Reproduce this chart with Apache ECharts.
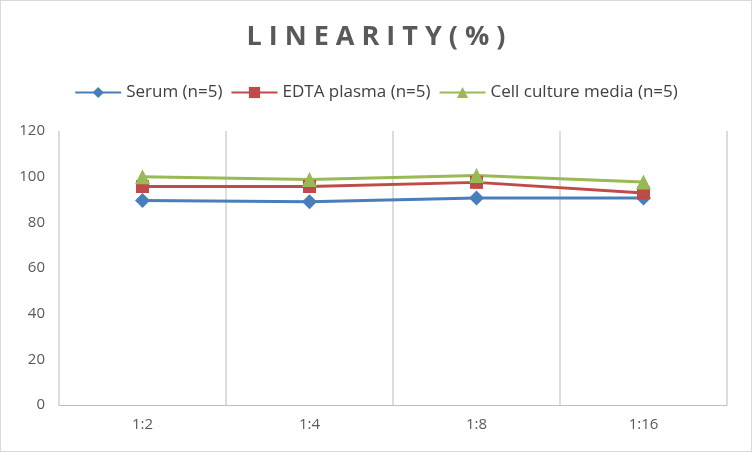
<!DOCTYPE html>
<html lang="en">
<head>
    <meta charset="UTF-8">
    <title>Linearity</title>
    <script src="https://cdn.jsdelivr.net/npm/echarts@6/dist/echarts.min.js"></script>
    <style type="text/css">
        *{ padding: 0px; margin: 0px; border: 0px; }
        #chart{ width: 750px; height: 450px; border: 1px solid #d9d9d9; background: #fff; }
    </style>
</head>
<body>
<div id="chart"></div>
<script>
    // chart data
    var categories = ['1:2', '1:4', '1:8', '1:16'];
    var serum = [89.6, 89, 90.7, 90.7];
    var edta = [95.7, 95.7, 97.5, 92.9];
    var cellMedia = [100, 98.8, 100.5, 97.7];

    var chart = echarts.init(document.getElementById('chart'));
    var option = {
        animation: false,
        title: {
            text: 'L I N E A R I T Y ( % )',
            left: 'center',
            top: 18,
            textStyle: { fontFamily: 'Open Sans', fontSize: 27, fontWeight: 'bold', color: '#595959' }
        },
        legend: {
            top: 78,
            left: 'center',
            itemWidth: 46,
            itemHeight: 14,
            itemGap: 8,
            textStyle: { fontFamily: 'Open Sans', fontSize: 17, color: '#404040' },
            data: ['Serum (n=5)', 'EDTA plasma (n=5)', 'Cell culture media (n=5)']
        },
        grid: { left: 58, right: 24, top: 130, bottom: 46 },
        xAxis: {
            type: 'category',
            data: categories,
            boundaryGap: true,
            axisLine: { lineStyle: { color: '#bfbfbf' } },
            axisTick: { show: false },
            splitLine: { show: true, lineStyle: { color: '#d0d0d0', width: 1.5 } },
            axisLabel: { fontFamily: 'Open Sans', fontSize: 15, color: '#595959', margin: 12 }
        },
        yAxis: {
            type: 'value',
            min: 0, max: 120, interval: 20,
            axisLine: { show: false },
            axisTick: { show: false },
            splitLine: { show: false },
            axisLabel: { fontFamily: 'Open Sans', fontSize: 15, color: '#595959', margin: 14 }
        },
        series: [
            { name: 'Serum (n=5)', type: 'line', data: serum, symbol: 'diamond', symbolSize: 15,
              itemStyle: { color: '#4a7ebb' }, lineStyle: { width: 3 } },
            { name: 'EDTA plasma (n=5)', type: 'line', data: edta, symbol: 'rect', symbolSize: 13,
              itemStyle: { color: '#be4b48' }, lineStyle: { width: 3 } },
            { name: 'Cell culture media (n=5)', type: 'line', data: cellMedia, symbol: 'triangle', symbolSize: 15,
              itemStyle: { color: '#98b954' }, lineStyle: { width: 3 } }
        ]
    };
    chart.setOption(option);
</script>
</body>
</html>
